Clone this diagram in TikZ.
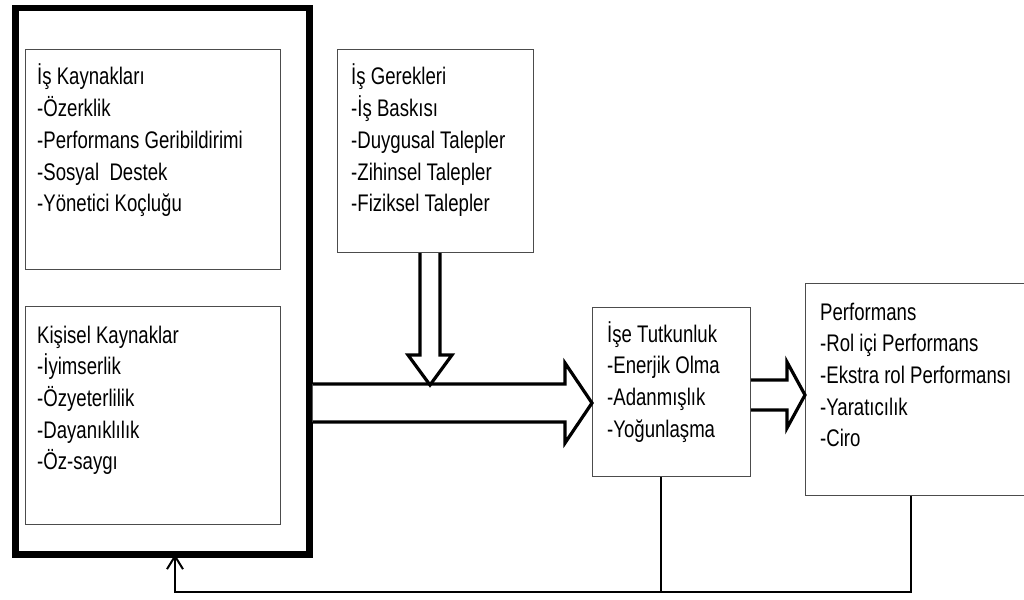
\documentclass[tikz,border=0pt]{standalone}
\usepackage{fontspec}
\setmainfont{Liberation Sans}
\newfontfamily\narrowsans[FakeStretch=0.775]{Liberation Sans}
\usetikzlibrary{arrows.meta}

% block-text helper: lines set top-down, anchored at the first baseline
\newcommand{\blocktext}[1]{\parbox[t]{280pt}{\narrowsans\fontsize{24pt}{31.7pt}\selectfont\raggedright #1}}

\begin{document}
\begin{tikzpicture}[x=1pt,y=-1pt,
  frame/.style={draw=black, line width=6.5pt, inner sep=0pt},
  panel/.style={draw=black!70, line width=1.1pt, inner sep=0pt, anchor=north west},
  label/.style={inner sep=0pt, anchor=base west},
  blockarrow/.style={draw=black, line width=3.2pt, fill=white, line join=miter},
  feedback/.style={draw=black, line width=2pt},
]
\useasboundingbox (0,0) rectangle (1024,599);

% resources frame and its two panels
\node[frame, minimum width=294pt, minimum height=546pt, anchor=north west] (res) at (12,5) {};
\node[panel, minimum width=255pt, minimum height=220pt] (job) at (25,49) {};
\node[panel, minimum width=255pt, minimum height=218pt] (pers) at (25,306) {};
\node[label] (jobtxt) at (37,85) {\blocktext{İş Kaynakları\\-Özerklik\\-Performans Geribildirimi\\-Sosyal\ \ Destek\\-Yönetici Koçluğu}};
\node[label] (perstxt) at (37,343) {\blocktext{Kişisel Kaynaklar\\-İyimserlik\\-Özyeterlilik\\-Dayanıklılık\\-Öz-saygı}};

% demands, engagement and performance boxes
\node[panel, minimum width=196pt, minimum height=203pt] (dem) at (337,49) {};
\node[label] (demtxt) at (351,85) {\blocktext{İş Gerekleri\\-İş Baskısı\\-Duygusal Talepler\\-Zihinsel Talepler\\-Fiziksel Talepler}};

\node[panel, minimum width=158pt, minimum height=169pt] (eng) at (592,307) {};
\node[label] (engtxt) at (607,342) {\blocktext{İşe Tutkunluk\\-Enerjik Olma\\-Adanmışlık\\-Yoğunlaşma}};

\node[panel, minimum width=240pt, minimum height=212pt] (perf) at (805,283) {};
\node[label] (perftxt) at (820,320) {\blocktext{Performans\\-Rol içi Performans\\-Ekstra rol Performansı\\-Yaratıcılık\\-Ciro}};

% wide arrow: resources -> engagement
\draw[blockarrow] (res.east |- 0,384) -- (565,384) -- (565,363) -- (eng.west |- 0,403)
  -- (565,443) -- (565,422) -- (res.east |- 0,422);

% downward arrow: demands -> main flow
\draw[blockarrow] (420,0 |- dem.south) -- (420,355) -- (408,355) -- (430,385)
  -- (452,355) -- (440,355) -- (440,0 |- dem.south);

% arrow: engagement -> performance
\draw[blockarrow] (eng.east |- 0,380) -- (787,380) -- (787,362) -- (perf.west |- 0,395)
  -- (787,428) -- (787,410) -- (eng.east |- 0,410);

% feedback loop back to the resources frame
\coordinate (loopR) at (911,592);
\coordinate (loopL) at (175,592);
\draw[feedback] (perf.south -| loopR) -- (loopR) -- (loopL)
  -- ([yshift=3.25pt]res.south -| loopL);
\draw[feedback, -{Straight Barb[length=13pt, width=16pt, line width=2pt]}] (loopL) -- ([yshift=3.25pt]res.south -| loopL);
\draw[feedback] (eng.south -| 661,0) -- (661,592);
\end{tikzpicture}
\end{document}
